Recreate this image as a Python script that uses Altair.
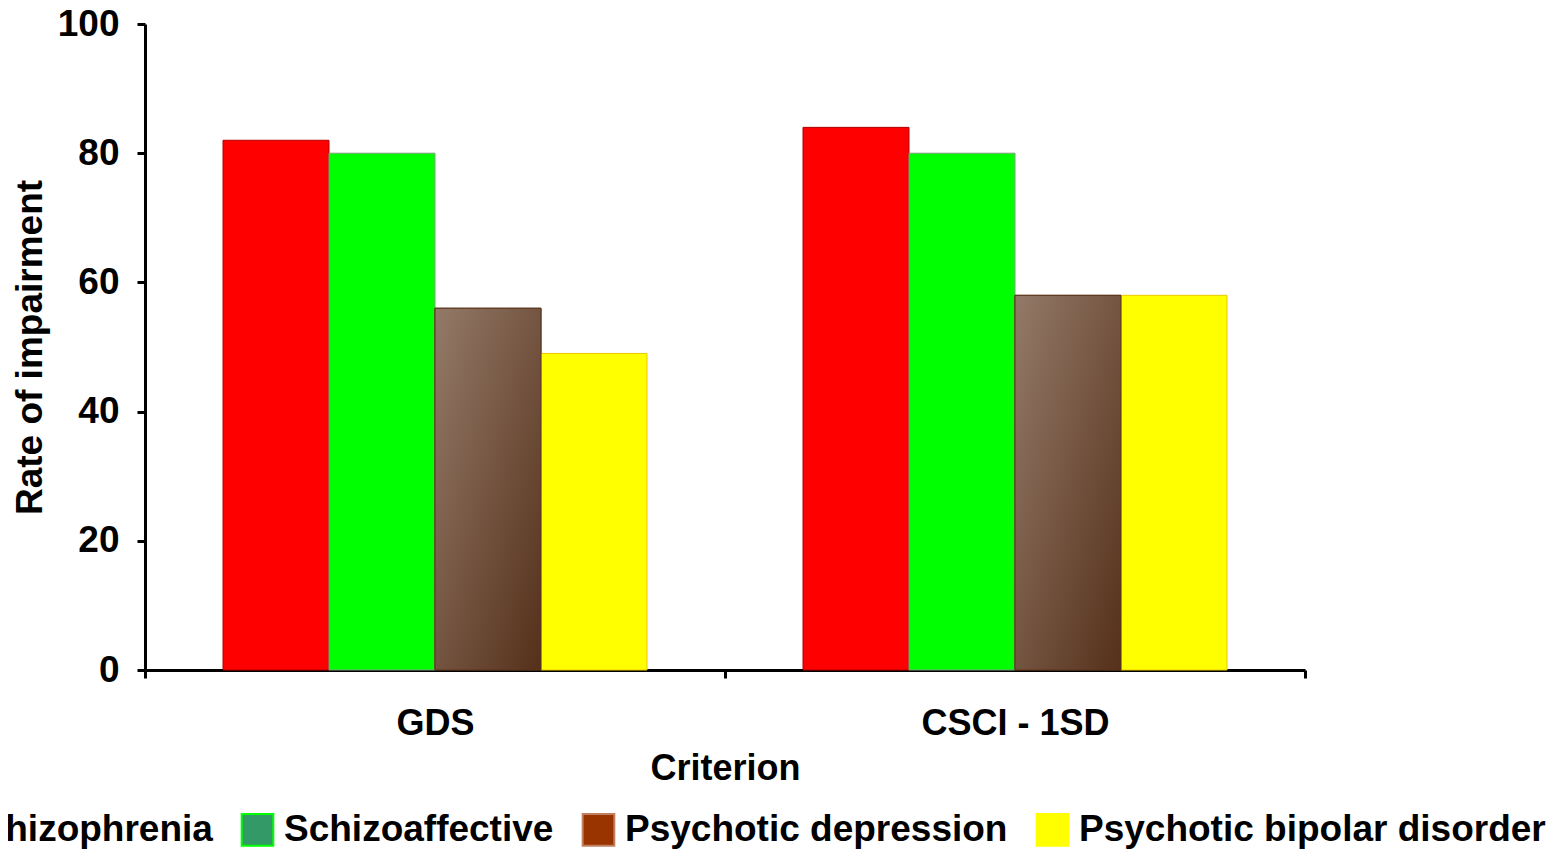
import altair as alt
import pandas as pd

categories = ["GDS", "CSCI - 1SD"]
series = ["Schizophrenia", "Schizoaffective", "Psychotic depression", "Psychotic bipolar disorder"]
values = {
    "Schizophrenia": [82, 84],
    "Schizoaffective": [80, 80],
    "Psychotic depression": [56, 58],
    "Psychotic bipolar disorder": [49, 58],
}
bar_fill = ["#ff0000", "#00ff00", "#8a6e5c", "#ffff00"]
bar_stroke = ["#b00000", "#7f9f7f", "#5a3419", "#e8c800"]
legend_fill = ["#ff0000", "#339966", "#993300", "#ffff00"]
legend_stroke = ["#ff0000", "#00ff00", "#c08060", "#ffff00"]

rows = []
for s in series:
    for c, v in zip(categories, values[s]):
        rows.append({"criterion": c, "series": s, "value": v})
df = pd.DataFrame(rows)

FONT = "Liberation Sans"

x = alt.X("criterion:N", sort=categories, title="Criterion",
          scale=alt.Scale(domain=categories, paddingInner=0, paddingOuter=0),
          axis=alt.Axis(labelAngle=0, tickBand="extent", labelPadding=28, titlePadding=10,
                        labelLimit=1000, labelFontSize=36, titleFontSize=36))
xo = alt.XOffset("series:N", sort=series,
                 scale=alt.Scale(domain=series, paddingInner=0, paddingOuter=0.736))
y = alt.Y("value:Q", title="Rate of impairment",
          scale=alt.Scale(domain=[0, 100], nice=False),
          axis=alt.Axis(values=[0, 20, 40, 60, 80, 100], grid=False, labelPadding=18,
                        titlePadding=8, labelFontSize=37, titleFontSize=37))

base = alt.Chart(df)

leg = dict(title=None, orient="none", direction="horizontal",
           legendX=-230, legendY=787, symbolType="square",
           symbolSize=1000, symbolStrokeWidth=2, labelFontSize=37,
           labelFont=FONT, labelFontWeight="bold", labelColor="black", labelOffset=8,
           columnPadding=24, labelLimit=1000, columns=4)

legend_layer = base.transform_filter("datum.value < 0").mark_bar(strokeWidth=2).encode(
    x=x, xOffset=xo, y=y,
    fill=alt.Fill("series:N", sort=series,
                  scale=alt.Scale(domain=series, range=legend_fill),
                  legend=alt.Legend(**leg)),
    stroke=alt.Stroke("series:N", sort=series,
                      scale=alt.Scale(domain=series, range=legend_stroke),
                      legend=alt.Legend(**leg)),
)

bars = base.mark_bar(strokeWidth=1).encode(
    x=x, xOffset=xo, y=y,
    fill=alt.Fill("series:N", sort=series, scale=alt.Scale(domain=series, range=bar_fill), legend=None),
    stroke=alt.Stroke("series:N", sort=series, scale=alt.Scale(domain=series, range=bar_stroke), legend=None),
)

grad = alt.Gradient(gradient="linear", x1=0, y1=0, x2=1, y2=1,
                    stops=[alt.GradientStop(offset=0, color="#937a68"),
                           alt.GradientStop(offset=1, color="#55301a")])
brown = base.transform_filter(alt.datum.series == "Psychotic depression").mark_bar(
    fill=grad, stroke="#5a3419", strokeWidth=1).encode(x=x, xOffset=xo, y=y)

chart = alt.layer(legend_layer, bars, brown).resolve_scale(
    fill="independent", stroke="independent"
).properties(
    width=1160, height=646,
    autosize=alt.AutoSizeParams(type="none"),
    padding={"left": 137, "top": 16, "right": 247, "bottom": 181},
).configure_view(stroke=None).configure_axis(
    labelFont=FONT, labelFontWeight="bold", labelColor="black",
    titleFont=FONT, titleFontWeight="bold", titleColor="black",
    domainColor="black", domainWidth=3, tickColor="black", tickWidth=3, tickSize=8,
)

chart.save("out.html", embed_options={"renderer": "svg", "actions": False})
